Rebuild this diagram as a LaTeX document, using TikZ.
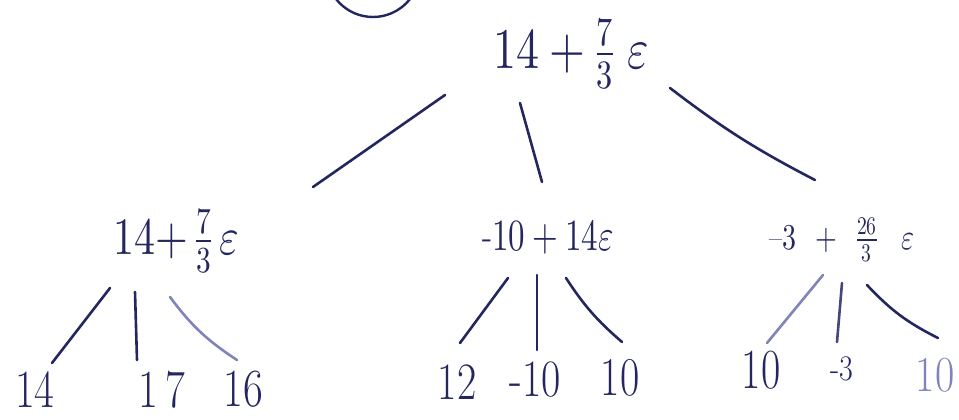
\documentclass[tikz,border=0pt]{standalone}
\usepackage{amsmath}
\usepackage{unicode-math}
\setmathfont{Latin Modern Math}
\usepackage{graphicx}
\definecolor{ink}{RGB}{36,38,96}
\definecolor{inklight}{RGB}{128,132,184}
\newcommand{\hwt}[3]{\scalebox{1}[#2]{\fontsize{#1}{#1}\selectfont #3}}
\begin{document}
\begin{tikzpicture}[x=1pt,y=-1pt,
  lbl/.style={inner sep=0pt, text=ink},
  lbllight/.style={inner sep=0pt, text=inklight},
  edge/.style={draw=ink, line width=2.6pt, line cap=round},
  edgelight/.style={edge, draw=inklight}]
\clip (0,0) rectangle (959,420);
% partially visible circle at the top
\node[draw=ink, line width=2.4pt, circle, minimum size=94pt, inner sep=0pt] (top) at (373,-30) {};
% root
\node[lbl] (root) at (571,54) {\hwt{46}{1.25}{$14+\tfrac{7}{3}\;\varepsilon$}};
% children
\node[lbl] (c1) at (176,241) {\hwt{42}{1.25}{$14{+}\,\tfrac{7}{3}\,\varepsilon$}};
\node[lbl] (c2) at (548,237) {\hwt{33}{1.35}{$\mbox{-}10+14\varepsilon$}};
\node[lbl] (c3) at (842,240) {\hwt{28}{1.3}{$\mbox{--}3\;\,+\;\,\tfrac{26}{3}\;\;\;\varepsilon$}};
% leaves
\node[lbl] (l1) at (35,390) {\hwt{43}{1.25}{14}};
\node[lbl] (l2) at (162,390) {\hwt{43}{1.25}{1\hspace{8pt}7}};
\node[lbl] (l3) at (243,389) {\hwt{43}{1.25}{16}};
\node[lbl] (l4) at (457,382) {\hwt{42}{1.25}{12}};
\node[lbl] (l5) at (535,380) {\hwt{42}{1.25}{-10}};
\node[lbl] (l6) at (620,378) {\hwt{42}{1.3}{10}};
\node[lbl] (l7) at (761,370) {\hwt{42}{1.35}{10}};
\node[lbl] (l8) at (842,369) {\hwt{30}{1.2}{-3}};
\node[lbllight] (l9) at (935,375) {\hwt{42}{1.2}{10}};
% root edges
\draw[edge] ([shift={(-126,41)}]root.center) -- ([shift={(137,-54)}]c1.center);
\draw[edge] ([shift={(-51,49)}]root.center) -- ([shift={(-6,-55)}]c2.center);
\draw[edge] ([shift={(99,34)}]root.center) to[bend right=5] ([shift={(-27,-60)}]c3.center);
% c1 edges
\draw[edge] ([shift={(-66,47)}]c1.center) -- ([shift={(17,-27)}]l1.center);
\draw[edge] ([shift={(-41,51)}]c1.center) -- ([shift={(-25,-30)}]l2.center);
\draw[edgelight] ([shift={(-6,56)}]c1.center) to[bend right=10] ([shift={(-6,-29)}]l3.center);
% c2 edges
\draw[edge] ([shift={(-40,41)}]c2.center) -- ([shift={(3,-39)}]l4.center);
\draw[edge] ([shift={(-11,38)}]c2.center) -- ([shift={(2,-30)}]l5.center);
\draw[edge] ([shift={(18,41)}]c2.center) to[bend right=8] ([shift={(2,-36)}]l6.center);
% c3 edges
\draw[edgelight] ([shift={(-19,35)}]c3.center) -- ([shift={(6,-27)}]l7.center);
\draw[edge, draw=ink!85] ([shift={(0,43)}]c3.center) -- ([shift={(-5,-27)}]l8.center);
\draw[edge] ([shift={(25,45)}]c3.center) to[bend right=10] ([shift={(3,-37)}]l9.center);
\end{tikzpicture}
\end{document}
